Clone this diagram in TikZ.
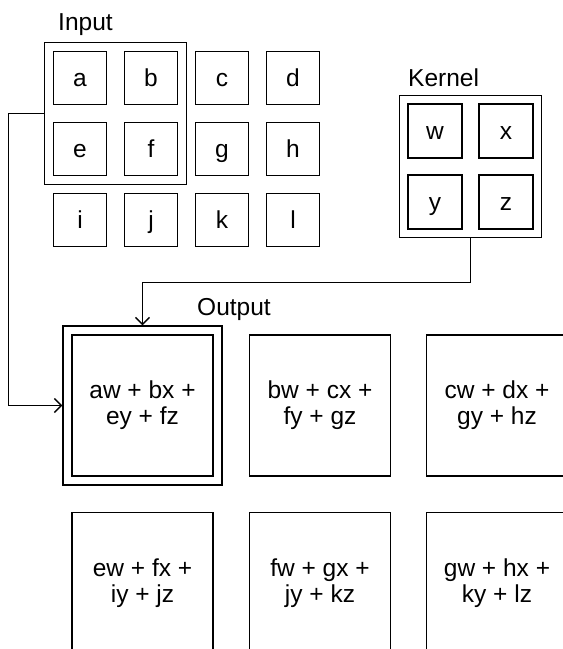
\documentclass[tikz,border=0pt]{standalone}
\usepackage{fontspec}
\setmainfont{Liberation Sans}
\usepackage{tikz}
\usetikzlibrary{positioning,arrows.meta,fit}
\tikzset{
  cell/.style={draw=black, line width=1.4pt, inner sep=0pt, minimum size=53pt,
    text height=18pt, text depth=2pt},
  kcell/.style={cell, minimum size=54pt},
  ocell/.style={draw=black, line width=1.4pt, inner sep=0pt, minimum size=141pt, align=center},
  frame/.style={draw=black, line width=1.4pt, inner sep=8.5pt},
  title/.style={inner sep=0pt, anchor=base west},
  link/.style={draw=black, line width=1.4pt, -{Straight Barb[length=7pt,width=14pt,line width=1.4pt]}}
}

\begin{document}
\begin{tikzpicture}[x=1pt,y=-1pt,font=\fontsize{24.5}{26}\selectfont]
  \useasboundingbox (0,0) rectangle (563,649);
  \clip (0,0) rectangle (563,649);
  % input
  \node[cell] (a) at (80,78) {a};
  \node[cell] (b) at (151,78) {b};
  \node[cell] (c) at (222,78) {c};
  \node[cell] (d) at (293,78) {d};
  \node[cell] (e) at (80,149) {e};
  \node[cell] (f) at (151,149) {f};
  \node[cell] (g) at (222,149) {g};
  \node[cell] (h) at (293,149) {h};
  \node[cell] (i) at (80,220) {i};
  \node[cell] (j) at (151,220) {j};
  \node[cell] (k) at (222,220) {k};
  \node[cell] (l) at (293,220) {l};
  \node[frame, fit=(a)(f)] (inframe) {};
  \node[title] (intitle) at (58,30) {Input};
  % kernel
  \node[kcell] (w) at (435,131) {w};
  \node[kcell] (x) at (506,131) {x};
  \node[kcell] (y) at (435,202) {y};
  \node[kcell] (z) at (506,202) {z};
  \node[frame, inner sep=8pt, fit=(w)(z)] (kframe) {};
  \node[title] (ktitle) at (408,86) {Kernel};
  % output
  \node[ocell] (o1) at (142.5,405.5) {aw + bx +\\ ey + fz};
  \node[ocell] (o2) at (320,405.5) {bw + cx +\\ fy + gz};
  \node[ocell] (o3) at (497,405.5) {cw + dx +\\ gy + hz};
  \node[ocell] (o4) at (142.5,583) {ew + fx +\\ iy + jz};
  \node[ocell] (o5) at (320,583) {fw + gx +\\ jy + kz};
  \node[ocell] (o6) at (497,583) {gw + hx +\\ ky + lz};
  \node[frame, inner sep=0pt, minimum size=159pt] (oframe) at (o1) {};
  \node[title] (otitle) at (197,315) {Output};
  % connectors
  \draw[link] (inframe.west) -- ++(-35,0) |- (oframe.west);
  \draw[link] (kframe.south) -- ++(0,44) -| (oframe.north);
\end{tikzpicture}
\end{document}
